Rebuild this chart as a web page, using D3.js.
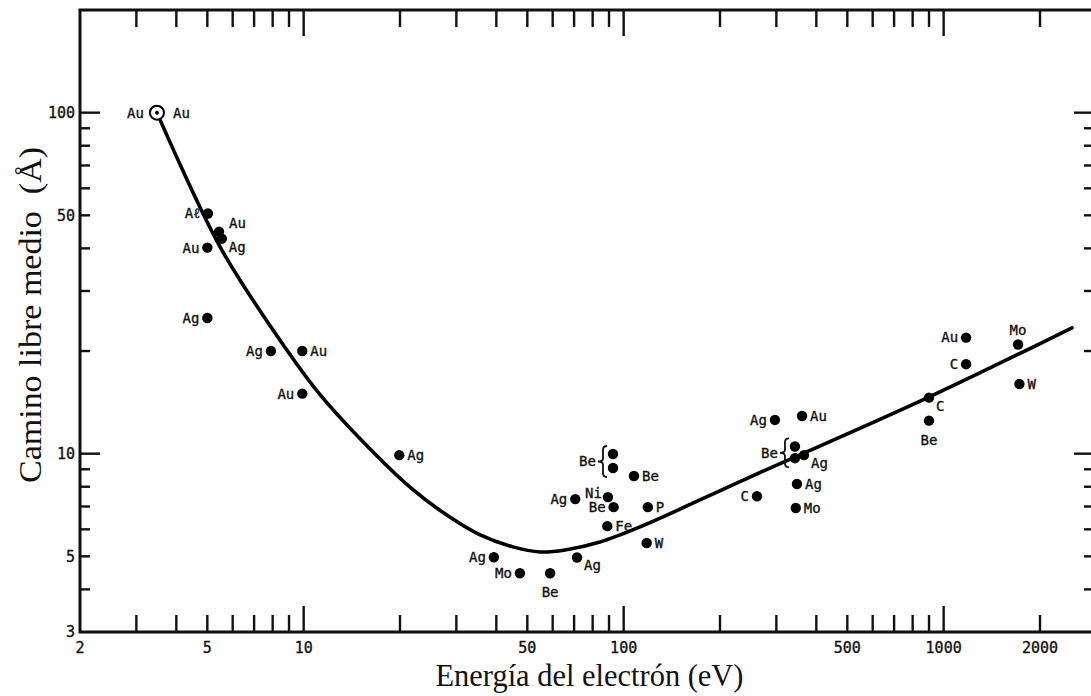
<!DOCTYPE html>
<html>
<head>
<meta charset="utf-8">
<script src="https://cdn.jsdelivr.net/npm/d3@7"></script>
<style>
  html, body { margin: 0; padding: 0; background: #fff; }
  svg { display: block; }
  .lbl { font-family: "DejaVu Sans Mono", monospace; font-size: 14px; fill: #111; stroke: #111; stroke-width: 0.35; }
  .tk  { font-family: "DejaVu Sans Mono", monospace; font-size: 15px; fill: #111; stroke: #111; stroke-width: 0.35; }
  .ttl { font-family: "Liberation Serif", "Times New Roman", serif; font-size: 32px; fill: #111; }
</style>
</head>
<body>
<div id="chart"></div>
<script>
// universal curve of the electron inelastic mean free path
var curveE = [3.48, 5.48, 8.87, 11.25, 16.5, 22.0, 28.0, 35.6, 45.1, 54.8, 65.6, 84.3, 112.5, 248, 906, 2518];
var curveL = [100, 40.4, 20.1, 14.9, 10.1, 7.83, 6.61, 5.78, 5.33, 5.15, 5.22, 5.51, 6.10, 8.54, 14.7, 23.4];

// measured points: energy (eV), mean free path (Å), element, where its label goes
var ptE    = [3.48, 5.02, 5.44, 5.55, 5.0, 5.0, 7.9, 9.9, 9.9, 19.9, 39.3, 47.4, 58.9, 71.5, 92.6, 92.6, 107.7, 70.6, 89.3, 93, 119, 88.9, 118, 261, 297, 361, 343, 343, 366, 348, 345, 900, 900, 1175, 1175, 1708, 1725];
var ptL    = [100, 50.6, 44.8, 42.7, 40.2, 25.0, 20.0, 20.0, 15.0, 9.9, 4.97, 4.46, 4.46, 4.96, 9.98, 9.08, 8.6, 7.36, 7.46, 6.97, 6.97, 6.13, 5.47, 7.5, 12.56, 12.9, 10.5, 9.7, 9.9, 8.15, 6.93, 14.6, 12.5, 21.9, 18.3, 20.9, 16.0];
var ptName = ['Au','A\u2113','Au','Ag','Au','Ag','Ag','Au','Au','Ag','Ag','Mo','Be','Ag','Be','Be','Be','Ag','Ni','Be','P','Fe','W','C','Ag','Au','Be','Be','Ag','Ag','Mo','C','Be','Au','C','Mo','W'];
var ptSide = ['lr','l','ru','rd','l','l','l','r','l','r','l','l','b','rd','{a','{a','r','l','lu','l','r','r','r','l','l','r','{b','{b','rd','r','r','rd','b','l','l','t','r'];

var xTickLabels = [2, 5, 10, 50, 100, 500, 1000, 2000];
var yTickLabels = [3, 5, 10, 50, 100];

var W = 1091, H = 696;
var L = 80, R = 1094, T = 10, B = 632;

var svg = d3.select('#chart').append('svg').attr('width', W).attr('height', H);

var x = d3.scaleLog().domain([2, 2950]).range([L, R]);
var y = d3.scaleLog().domain([3, 200]).range([B, T]);

function isMajor(v){ return Math.abs(Math.log10(v) - Math.round(Math.log10(v))) < 1e-9; }

// ticks on all four sides, pointing inward
var g = svg.append('g').attr('stroke', '#111').attr('stroke-width', 2.4);
x.ticks().forEach(function(v){
    if (v <= 2) return;
    var len = isMajor(v) ? 26 : 17;
    g.append('line').attr('x1', x(v)).attr('x2', x(v)).attr('y1', B).attr('y2', B - len);
    g.append('line').attr('x1', x(v)).attr('x2', x(v)).attr('y1', T).attr('y2', T + len);
});
y.ticks().forEach(function(v){
    if (v <= 3 || v >= 200) return;
    var len = isMajor(v) ? 20 : 10;
    g.append('line').attr('x1', L).attr('x2', L + len).attr('y1', y(v)).attr('y2', y(v));
    g.append('line').attr('x1', R).attr('x2', R - len).attr('y1', y(v)).attr('y2', y(v));
});

svg.append('rect').attr('x', L).attr('y', T).attr('width', R - L).attr('height', B - T)
    .attr('fill', 'none').attr('stroke', '#111').attr('stroke-width', 3);

svg.selectAll('text.xt').data(xTickLabels).join('text').attr('class', 'tk')
    .attr('x', function(d){ return x(d); }).attr('y', B + 21).attr('text-anchor', 'middle')
    .text(function(d){ return d; });
svg.selectAll('text.yt').data(yTickLabels).join('text').attr('class', 'tk')
    .attr('x', L - 5).attr('y', function(d){ return y(d); }).attr('dy', '0.35em').attr('text-anchor', 'end')
    .text(function(d){ return d; });

// the curve
var line = d3.line().x(function(d){ return x(d[0]); }).y(function(d){ return y(d[1]); })
    .curve(d3.curveCatmullRom.alpha(0.5));
svg.append('path').datum(d3.zip(curveE, curveL)).attr('d', line)
    .attr('fill', 'none').attr('stroke', '#000').attr('stroke-width', 3.6).attr('stroke-linecap', 'round');

// points
var pts = ptE.map(function(e, i){ return {e: e, l: ptL[i], name: ptName[i], side: ptSide[i]}; });
pts.forEach(function(p){
    var px = x(p.e), py = y(p.l);
    if (p.side === 'lr') {
        svg.append('circle').attr('cx', px).attr('cy', py).attr('r', 7).attr('fill', '#fff').attr('stroke', '#000').attr('stroke-width', 2);
        svg.append('circle').attr('cx', px).attr('cy', py).attr('r', 2).attr('fill', '#000');
    } else {
        svg.append('circle').attr('cx', px).attr('cy', py).attr('r', 5.2).attr('fill', '#000');
    }
    if (p.side[0] === '{') return;
    var dx = 0, dy = 0, anchor = 'start';
    if (p.side === 'l')  { dx = -8; anchor = 'end'; }
    if (p.side === 'lu') { dx = -6; dy = -4; anchor = 'end'; }
    if (p.side === 'r')  { dx = 8; }
    if (p.side === 'ru') { dx = 10; dy = -8; }
    if (p.side === 'rd') { dx = 7; dy = 8; }
    if (p.side === 'b')  { dy = 19; anchor = 'middle'; }
    if (p.side === 't')  { dy = -14; anchor = 'middle'; }
    if (p.side === 'lr') {
        svg.append('text').attr('class', 'lbl').attr('x', px - 13).attr('y', py).attr('dy', '0.35em').attr('text-anchor', 'end').text(p.name);
        svg.append('text').attr('class', 'lbl').attr('x', px + 16).attr('y', py).attr('dy', '0.35em').text(p.name);
        return;
    }
    svg.append('text').attr('class', 'lbl').attr('x', px + dx).attr('y', py + dy).attr('dy', '0.35em')
        .attr('text-anchor', anchor).text(p.name);
});

// braces grouping two Be points
d3.groups(pts.filter(function(p){ return p.side[0] === '{'; }), function(p){ return p.side; })
  .forEach(function(grp){
    var ps = grp[1];
    var bx = d3.min(ps, function(p){ return x(p.e); }) - 10;
    var y0 = d3.min(ps, function(p){ return y(p.l); }) - 8;
    var y1 = d3.max(ps, function(p){ return y(p.l); }) + 9;
    var ym = (y0 + y1) / 2;
    var path = d3.path();
    path.moveTo(bx + 4, y0);
    path.quadraticCurveTo(bx, y0, bx, y0 + 4);
    path.lineTo(bx, ym - 3);
    path.quadraticCurveTo(bx, ym, bx - 5, ym);
    path.quadraticCurveTo(bx, ym, bx, ym + 3);
    path.lineTo(bx, y1 - 4);
    path.quadraticCurveTo(bx, y1, bx + 4, y1);
    svg.append('path').attr('d', path.toString()).attr('fill', 'none').attr('stroke', '#111').attr('stroke-width', 1.8);
    svg.append('text').attr('class', 'lbl').attr('x', bx - 7).attr('y', ym).attr('dy', '0.35em')
        .attr('text-anchor', 'end').text(ps[0].name);
});

// axis titles
svg.append('text').attr('class', 'ttl').attr('x', (L + 1091) / 2 + 4).attr('y', 686).attr('text-anchor', 'middle')
    .attr('textLength', 308).attr('lengthAdjust', 'spacingAndGlyphs')
    .text('Energía del electrón (eV)');
svg.append('text').attr('class', 'ttl').attr('transform', 'translate(41,315) rotate(-90)').attr('text-anchor', 'middle')
    .attr('textLength', 336).attr('lengthAdjust', 'spacingAndGlyphs')
    .text('Camino libre medio\u00a0 (Å)');
</script>
</body>
</html>
